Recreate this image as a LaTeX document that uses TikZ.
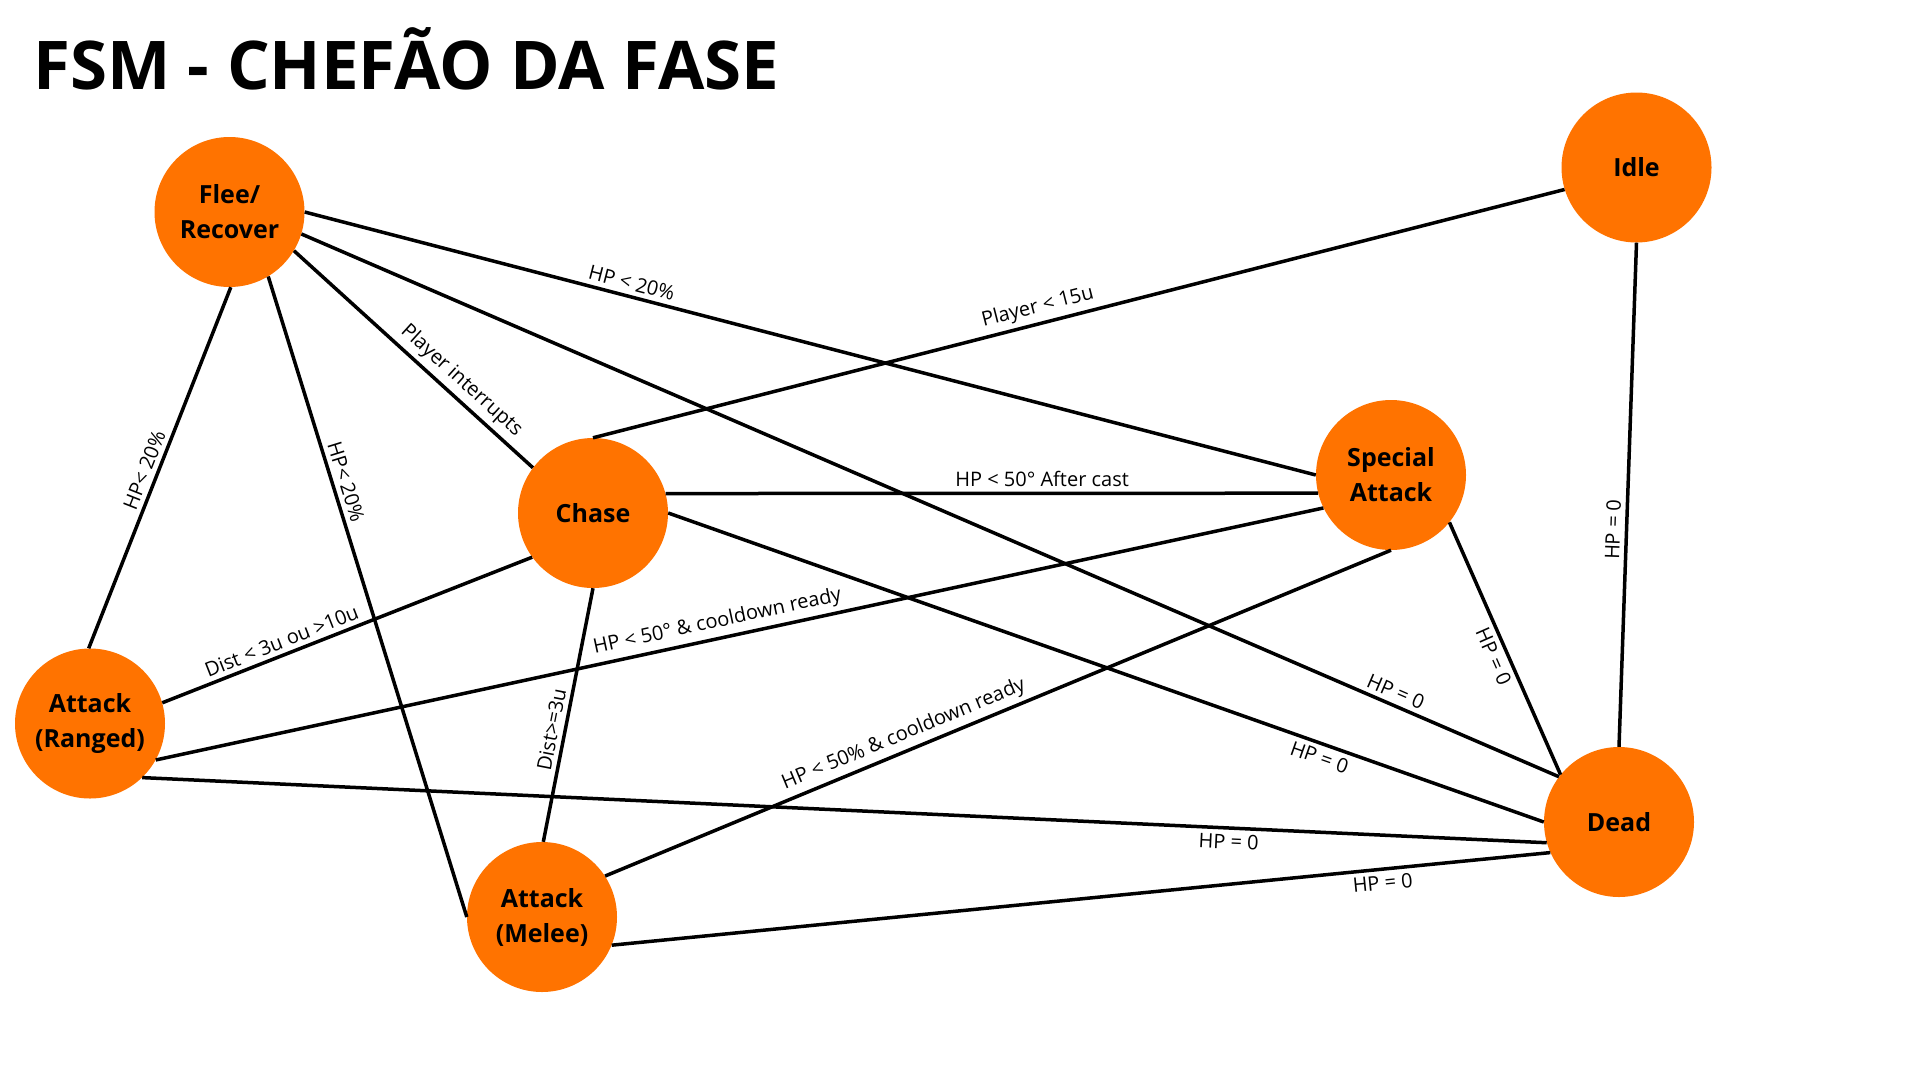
\documentclass[tikz,border=0pt]{standalone}
\usepackage{fontspec}
\setmainfont{Open Sans}
\definecolor{nodeorange}{HTML}{FF7300}
\tikzset{
  state/.style={circle, fill=nodeorange, draw=none, minimum size=150pt, inner sep=0pt,
    align=center, font=\fontsize{25}{35}\selectfont\bfseries, text=black},
  edge/.style={line width=3.5pt, draw=black},
  lbl/.style={sloped, font=\fontsize{20}{24}\selectfont, inner sep=4.5pt, text=black}
}
\begin{document}
\begin{tikzpicture}[x=1pt,y=-1pt]
\useasboundingbox (0,0) rectangle (1920,1080);
\fill[white] (0,0) rectangle (1920,1080);
\node[anchor=base west, font=\fontsize{67.2}{80}\selectfont\bfseries, inner sep=0pt] (title) at (33,89.5) {FSM - CHEFÃO DA FASE};

\node[state] (flee) at (229.5,212) {Flee/\\Recover};
\node[state] (chase) at (593,513) {Chase};
\node[state] (idle) at (1636.5,167.5) {Idle};
\node[state] (special) at (1391,475) {Special\\Attack};
\node[state] (ranged) at (90,723.5) {Attack\\(Ranged)};
\node[state] (melee) at (542,917) {Attack\\(Melee)};
\node[state] (dead) at (1619,822) {Dead};

\draw[edge] (flee.0) -- node[lbl, pos=0.32, above] {HP < 20\%} (special.180);
\draw[edge] (flee.-17) -- node[lbl, pos=0.866, above] {HP = 0} (dead.143);
\draw[edge] (flee.-31) -- node[lbl, pos=0.655, above] {Player interrupts} (chase.143);
\draw[edge] (flee.-89) -- node[lbl, pos=0.52, above] {HP< 20\%} (ranged.91);
\draw[edge] (flee.-59) -- node[lbl, pos=0.327, above] {HP< 20\%} (melee.180);
\draw[edge] (idle.197) -- node[lbl, pos=0.538, above] {Player < 15u} (chase.90);
\draw[edge] (idle.-90) -- node[lbl, pos=0.57, above] {HP = 0} (dead.90);
\draw[edge] (chase.15) -- node[lbl, pos=0.577, above] {HP < 50° After cast} (special.194);
\draw[edge] (chase.0) -- node[lbl, pos=0.749, below] {HP = 0} (dead.180);
\draw[edge] (chase.216) -- node[lbl, pos=0.664, above] {Dist < 3u ou >10u} (ranged.16);
\draw[edge] (chase.-90) -- node[lbl, pos=0.567, above] {Dist>=3u} (melee.89);
\draw[edge] (special.206) -- node[lbl, pos=0.516, above] {HP < 50° \& cooldown ready} (ranged.-29);
\draw[edge] (special.-90) -- node[lbl, pos=0.612, above] {HP < 50\% \& cooldown ready} (melee.33);
\draw[edge] (special.-39) -- node[lbl, pos=0.51, below] {HP = 0} (dead.141);
\draw[edge] (ranged.-46) -- node[lbl, pos=0.774, below] {HP = 0} (dead.196);
\draw[edge] (melee.-22) -- node[lbl, pos=0.82, below] {HP = 0} (dead.204);
\end{tikzpicture}
\end{document}
